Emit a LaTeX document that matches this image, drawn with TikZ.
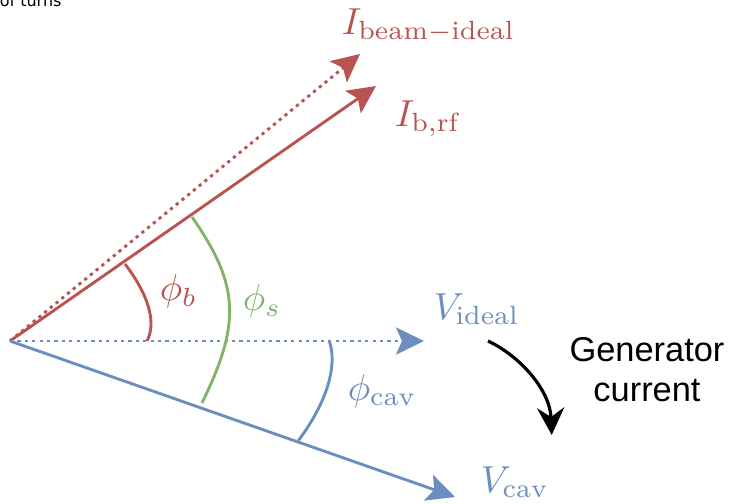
\documentclass[tikz,border=0pt]{standalone}
\usepackage{fontspec}
\newfontfamily\gensans{Liberation Sans}
\newfontfamily\topsans{DejaVu Sans}
\usetikzlibrary{arrows.meta}
\definecolor{drred}{HTML}{B85450}
\definecolor{drblue}{HTML}{6C8EBF}
\definecolor{drgreen}{HTML}{82B366}
\newcommand{\lblsize}[1]{\scalebox{0.94}{#1}}
\begin{document}
\begin{tikzpicture}[x=0.25pt,y=-0.25pt,
  vec/.style={line width=0.72pt,-{Stealth[length=7pt,width=6.8pt,inset=1.5pt]}},
  dotline/.style={dash pattern=on 0.8pt off 1.05pt},
  anglearc/.style={line width=0.72pt},
  lbl/.style={inner sep=0pt,anchor=base west},
  gentext/.style={inner sep=0pt,anchor=base,font=\gensans\fontsize{8.6}{10}\selectfont}]
\useasboundingbox (0,0) rectangle (730,504);
% points
\coordinate (O) at (10,341);
\coordinate (Tbeam) at (360,54);
\coordinate (Trf) at (376,86);
\coordinate (Tideal) at (424,341);
\coordinate (Tcav) at (455,497);
% vectors
\draw[vec,drred,dotline] (O) -- (Tbeam);
\draw[vec,drred] (O) -- (Trf);
\draw[vec,drblue,dotline] (O) -- (Tideal);
\draw[vec,drblue] (O) -- (Tcav);
% angle arcs
\coordinate (b0) at (125,264);
\coordinate (b1) at (147,341);
\draw[anglearc,drred] (b0) .. controls (145,290) and (158,320) .. (b1);
\coordinate (s0) at (192,217);
\coordinate (s1) at (202,403);
\draw[anglearc,drgreen] (s0) .. controls (240.8,286.6) and (240,325) .. (s1);
\coordinate (c0) at (329.3,340.7);
\coordinate (c1) at (298.3,440.7);
\draw[anglearc,drblue] (c0) .. controls (339,370) and (322.3,408.7) .. (c1);
% labels
\node[lbl,text=drred] (Lbeam) at (341,34) {\lblsize{$I_{\mathrm{beam-ideal}}$}};
\node[lbl,text=drred] (Lrf) at (394,126) {\lblsize{$I_{\mathrm{b,rf}}$}};
\node[lbl,text=drred] (Lphib) at (159,300.5) {\lblsize{$\phi_b$}};
\node[lbl,text=drgreen] (Lphis) at (242,310.5) {\lblsize{$\phi_s$}};
\node[lbl,text=drblue] (Lideal) at (433,319) {\lblsize{$V_{\mathrm{ideal}}$}};
\node[lbl,text=drblue] (Lphicav) at (347,400) {\lblsize{$\phi_{\mathrm{cav}}$}};
\node[lbl,text=drblue] (Lcav) at (480,492) {\lblsize{$V_{\mathrm{cav}}$}};
% generator current
\node[gentext] (gen1) at (647,361.7) {Generator};
\node[gentext] (gen2) at (647,401.7) {current};
\coordinate (g0) at (488,341);
\coordinate (g1) at (551.7,435);
\draw[line width=0.8pt,black,-{Stealth[length=6.8pt,width=6.8pt,inset=2.3pt]}]
  (g0) .. controls (520,356) and (550,390) .. (g1);
% clipped top-left text
\node[inner sep=0pt,anchor=base west,font=\topsans\fontsize{4}{5}\selectfont] (turns) at (-1,6) {of turns};
\end{tikzpicture}
\end{document}
